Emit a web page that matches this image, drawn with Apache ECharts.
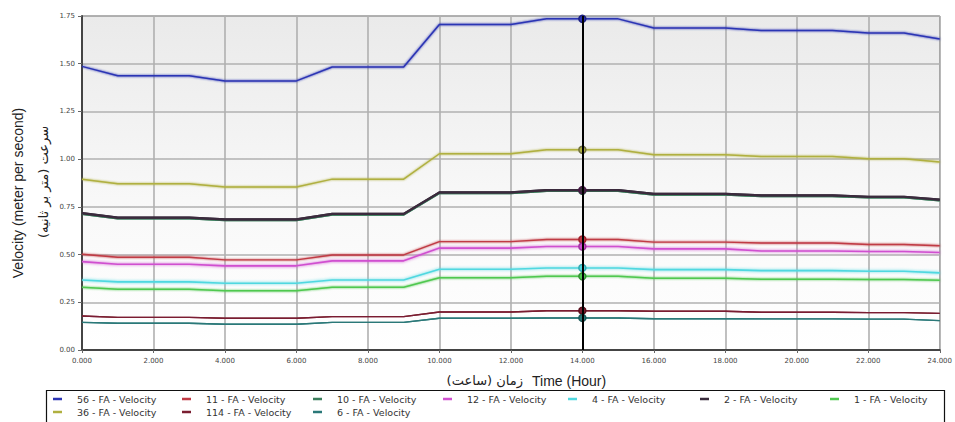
<!DOCTYPE html>
<html>
<head>
<meta charset="utf-8">
<script src="https://cdn.jsdelivr.net/npm/echarts@6/dist/echarts.min.js"></script>
<style>html,body{margin:0;padding:0;background:#fff}#c{width:955px;height:422px}</style>
</head>
<body>
<div id="c"></div>
<script>
var hours = [0,1,2,3,4,5,6,7,8,9,10,11,12,13,14,15,16,17,18,19,20,21,22,23,24];
var s56  = [1.486,1.437,1.437,1.437,1.41,1.41,1.41,1.483,1.483,1.483,1.705,1.705,1.705,1.735,1.735,1.735,1.687,1.687,1.687,1.674,1.674,1.674,1.661,1.661,1.63];
var s11  = [0.502,0.486,0.486,0.486,0.472,0.472,0.472,0.498,0.498,0.498,0.568,0.568,0.568,0.579,0.579,0.579,0.565,0.565,0.565,0.561,0.561,0.561,0.553,0.553,0.546];
var s10  = [0.713,0.690,0.690,0.690,0.680,0.680,0.680,0.709,0.709,0.709,0.822,0.822,0.822,0.834,0.834,0.834,0.814,0.814,0.814,0.806,0.806,0.806,0.799,0.799,0.784];
var s12  = [0.463,0.449,0.449,0.449,0.441,0.441,0.441,0.467,0.467,0.467,0.534,0.534,0.534,0.542,0.542,0.542,0.530,0.530,0.530,0.519,0.519,0.519,0.516,0.516,0.511];
var s4   = [0.367,0.357,0.357,0.357,0.350,0.350,0.350,0.367,0.367,0.367,0.423,0.423,0.423,0.430,0.430,0.430,0.421,0.421,0.421,0.416,0.416,0.416,0.413,0.413,0.404];
var s2   = [0.717,0.694,0.694,0.694,0.684,0.684,0.684,0.713,0.713,0.713,0.826,0.826,0.826,0.838,0.838,0.838,0.818,0.818,0.818,0.810,0.810,0.810,0.803,0.803,0.788];
var s1   = [0.329,0.318,0.318,0.318,0.311,0.311,0.311,0.329,0.329,0.329,0.379,0.379,0.379,0.386,0.386,0.386,0.376,0.376,0.376,0.371,0.371,0.371,0.369,0.369,0.366];
var s36  = [0.895,0.871,0.871,0.871,0.854,0.854,0.854,0.895,0.895,0.895,1.028,1.028,1.028,1.049,1.049,1.049,1.023,1.023,1.023,1.014,1.014,1.014,1.002,1.002,0.985];
var s114 = [0.178,0.171,0.171,0.171,0.166,0.166,0.166,0.175,0.175,0.175,0.199,0.199,0.199,0.206,0.206,0.206,0.203,0.203,0.203,0.198,0.198,0.198,0.196,0.196,0.192];
var s6   = [0.145,0.140,0.140,0.140,0.135,0.135,0.135,0.145,0.145,0.145,0.166,0.166,0.166,0.168,0.168,0.168,0.164,0.164,0.164,0.163,0.163,0.163,0.162,0.162,0.154];

var seriesNames = ['56 - FA - Velocity','11 - FA - Velocity','10 - FA - Velocity','12 - FA - Velocity','4 - FA - Velocity','2 - FA - Velocity','1 - FA - Velocity','36 - FA - Velocity','114 - FA - Velocity','6 - FA - Velocity'];
var seriesValues = [s56, s11, s10, s12, s4, s2, s1, s36, s114, s6];
var seriesColors = ['#2c34b4','#c03a44','#3b7d5c','#d050d0','#50d8e0','#3a2c3c','#50c850','#b0b040','#7a1e30','#2a7878'];
var markerColors = ['#1c2080','#a0202c','#2a5e44','#a030a0','#30a8b0','#4a1848','#309030','#707040','#5a0e1c','#1a5858'];
var lineWidths = [1.5,1.4,2.2,1.6,1.6,2.2,1.5,1.4,1.4,1.4];
var glow = [2,2,1,3,3,1,2,2,1,1];
var markerHour = 14;
var xTicks = {min:0, max:24, interval:2};
var yTicks = {min:0, max:1.75, interval:0.25};

var legendPos = [[53,394],[182,394],[313,394],[443,394],[568,394],[700,394],[830,394],[53,407],[182,407],[313,407]];

var series = seriesNames.map(function(name, i){
  var vals = seriesValues[i];
  var data = hours.map(function(h, j){
    if (h === markerHour) {
      return {value:[h, vals[j]], symbol:'circle', symbolSize:7,
        itemStyle:{color:seriesColors[i], borderColor:markerColors[i], borderWidth:1.5}};
    }
    return [h, vals[j]];
  });
  var s = {
    name: name, type:'line', data:data, symbol:'none', showSymbol:true,
    color: seriesColors[i],
    lineStyle:{width:lineWidths[i], color:seriesColors[i], shadowColor:seriesColors[i], shadowBlur:glow[i], opacity:1},
    itemStyle:{color:seriesColors[i]},
    z: (i===5?4:3),
    emphasis:{disabled:true},
    silent:true
  };
  if (i === 0) {
    s.markLine = {silent:true, symbol:'none', label:{show:false},
      lineStyle:{color:'#000', width:2, type:'solid'},
      data:[{xAxis:markerHour}], animation:false};
  }
  return s;
});

var legends = seriesNames.map(function(name, i){
  return {
    data:[{name:name, icon:'rect'}], left:legendPos[i][0], top:legendPos[i][1],
    itemWidth:9, itemHeight:2.5, padding:0, selectedMode:false,
    textStyle:{fontFamily:'DejaVu Sans', fontSize:9.5, color:'#333', padding:[0,0,0,10]}
  };
});

var chart = echarts.init(document.getElementById('c'), null, {renderer:'svg'});
chart.setOption({
  animation:false,
  backgroundColor:'#fff',
  grid:{left:82, right:13, top:16, bottom:72, show:true, borderColor:'#666', borderWidth:1,
    backgroundColor:{type:'linear', x:0, y:0, x2:0, y2:1, colorStops:[{offset:0,color:'#eaeaea'},{offset:0.55,color:'#f8f8f8'},{offset:1,color:'#ffffff'}]}},
  xAxis:{type:'value', min:xTicks.min, max:xTicks.max, interval:xTicks.interval,
    axisLine:{show:true, lineStyle:{color:'#444', width:2}},
    axisTick:{show:true, length:3, lineStyle:{color:'#666'}},
    splitLine:{show:true, lineStyle:{color:'#b0b0b0', width:1.6}},
    axisLabel:{margin:7, fontFamily:'DejaVu Sans', fontSize:7, color:'#444', formatter:function(v){return v.toFixed(3);}}},
  yAxis:{type:'value', min:yTicks.min, max:yTicks.max, interval:yTicks.interval,
    axisLine:{show:true, lineStyle:{color:'#444', width:2}},
    axisTick:{show:true, length:4, lineStyle:{color:'#666'}},
    splitLine:{show:true, lineStyle:{color:'#b0b0b0', width:1.6}},
    axisLabel:{margin:7, fontFamily:'DejaVu Sans', fontSize:7, color:'#444', formatter:function(v){return v.toFixed(2);}}},
  legend: legends,
  graphic:[
    {type:'rect', z:-1, shape:{x:46.5, y:390.5, width:898, height:40}, style:{fill:'#fff', stroke:'#111', lineWidth:1.2}},
    {type:'text', x:18, y:193, rotation:Math.PI/2, style:{text:'Velocity (meter per second)', fontFamily:'Liberation Sans', fontSize:14, fill:'#222', textAlign:'center', textVerticalAlign:'middle'}},
    {type:'text', x:43, y:182, rotation:Math.PI/2, style:{text:'سرعت (متر بر ثانیه)', fontFamily:'DejaVu Sans', fontSize:13, fill:'#222', textAlign:'center', textVerticalAlign:'middle'}},
    {type:'text', x:523, y:380, style:{text:'زمان (ساعت)', fontFamily:'DejaVu Sans', fontSize:13, fill:'#222', textAlign:'right', textVerticalAlign:'middle'}},
    {type:'text', x:532, y:381, style:{text:'Time (Hour)', fontFamily:'Liberation Sans', fontSize:14, fill:'#222', textAlign:'left', textVerticalAlign:'middle'}}
  ],
  series: series
});
</script>
</body>
</html>
